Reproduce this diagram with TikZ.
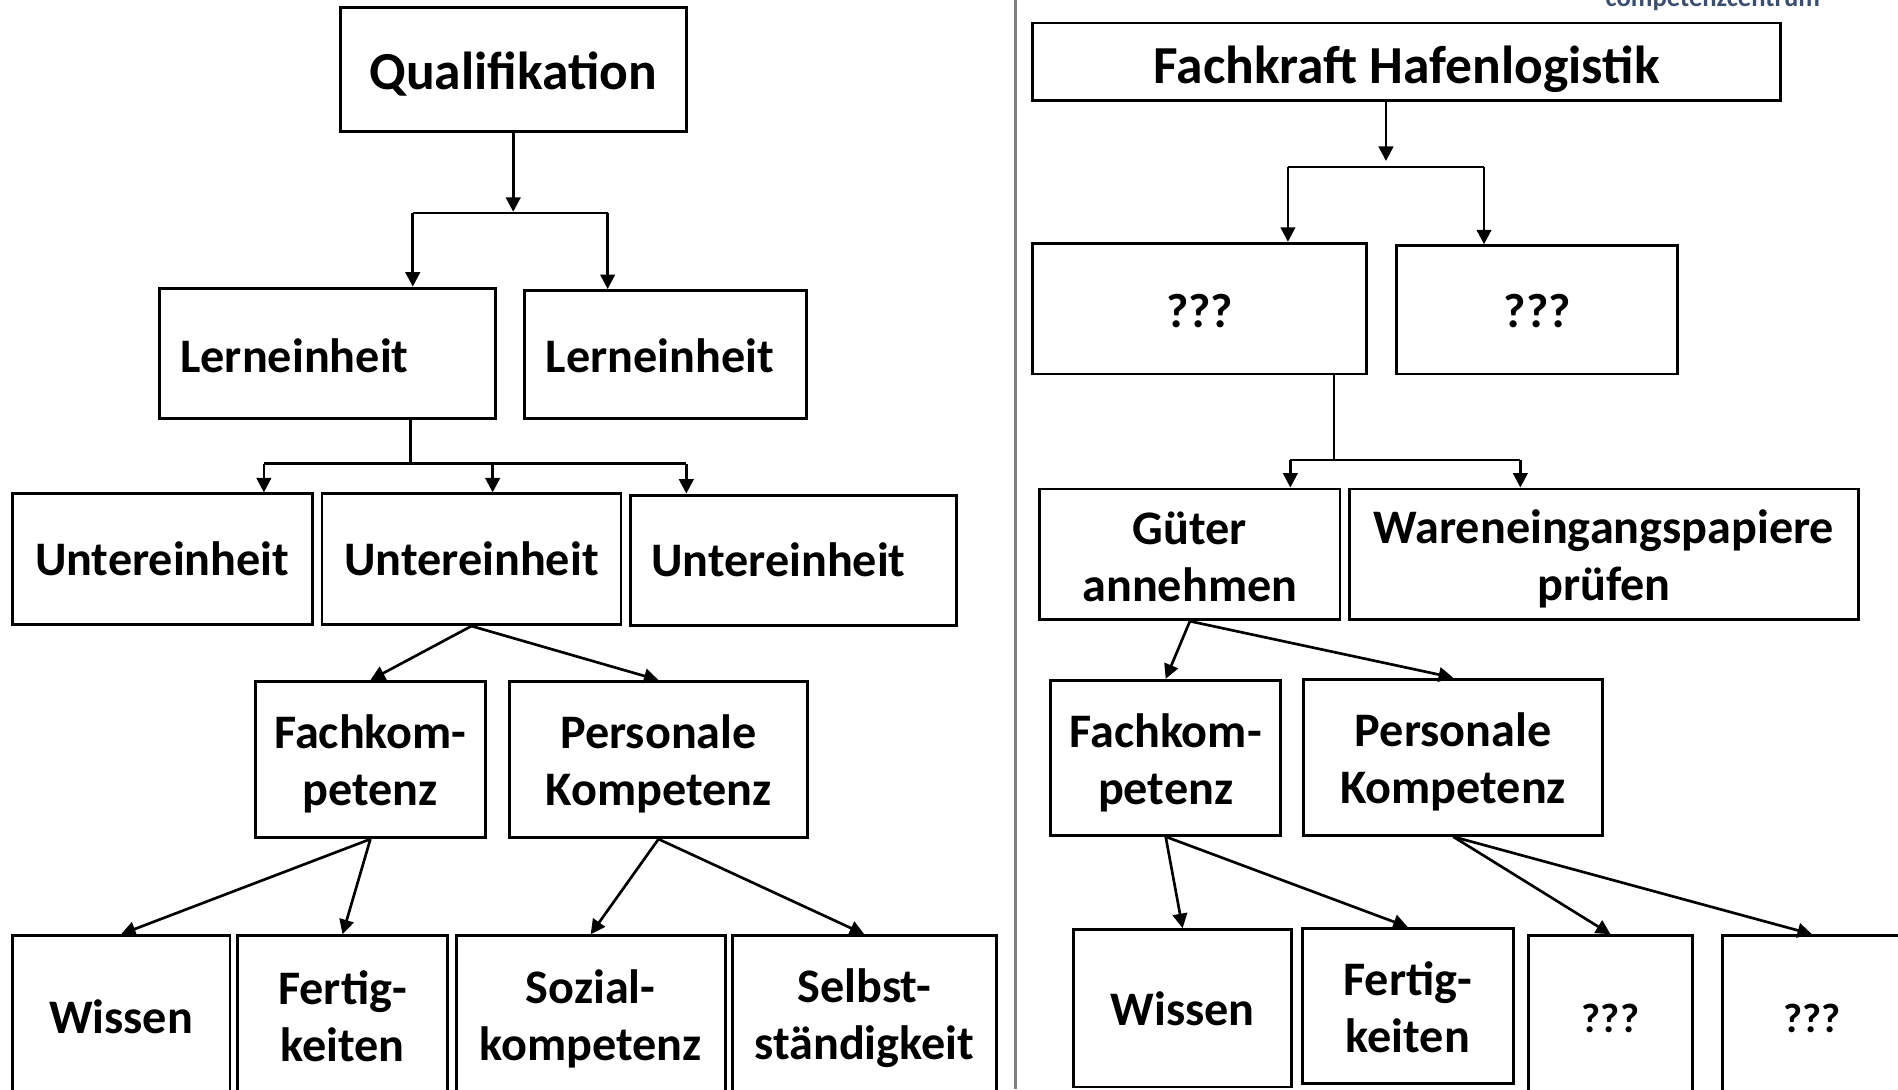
\documentclass[tikz,border=0pt]{standalone}
\usepackage{fontspec}
\setmainfont{Carlito}
\usetikzlibrary{arrows.meta}
\definecolor{logoblue}{RGB}{60,78,112}
\newcommand{\topstrut}{\rule{0pt}{\dimexpr0.952em+\boxsink\relax}}

\begin{document}
\begin{tikzpicture}[x=0.5pt,y=-0.5pt,
    sink/.store in=\boxsink,
    box/.style 2 args={draw, line width=1.2pt, inner sep=0pt, align=center,
      minimum width=#1*0.5pt, minimum height=#2*0.5pt, sink=0pt,
      font=\bfseries\fontsize{19.9}{23.5}\selectfont,
      execute at begin node={\topstrut},
      execute at end node={\rule[-0.269em]{0pt}{0.269em}}},
    titlefont/.style={font=\bfseries\fontsize{22.1}{26.5}\selectfont},
    smallfont/.style={font=\bfseries\fontsize{17}{20.5}\selectfont},
    link/.style={line width=1.1pt},
    arr/.style={line width=1.1pt, -{Triangle[length=6pt,width=6pt]}}]
    \useasboundingbox (0,0) rectangle (1568,900);
    \clip (0,0) rectangle (1568,900);

    % left tree
    \node[box={286}{103}, titlefont, sink=1pt] at (424,57.5) (Qua) {Qualifikation};
    \node[box={277}{108}, text width=121.5pt, align=left, sink=2pt] at (270.5,292) (Lr1) {Lerneinheit};
    \node[box={233}{106}, text width=98.5pt, align=left, sink=1pt] at (549.5,293) (Lr2) {Lerneinheit};
    \node[box={248}{108}] at (134,462) (Un1) {Untereinheit};
    \node[box={247}{108}] at (389.5,462) (Un2) {Untereinheit};
    \node[box={269}{108}, text width=117.5pt, align=left] at (655.5,463) (Un3) {Untereinheit};
    \node[box={190}{129}, sink=1pt] at (306,627.5) (Fk1) {\topstrut Fachkom-\\petenz};
    \node[box={246}{129}, sink=0.5pt] at (544,627.5) (Pk1) {\topstrut Personale\\Kompetenz};
    \node[box={180}{134}] at (100,840) (Wi1) {Wissen};
    \node[box={174}{134}, sink=-0.5pt] at (283,840) (Fe1) {\topstrut Fertig-\\keiten};
    \node[box={222}{134}, sink=-1pt] at (488,840) (So1) {\topstrut Sozial-\\kompetenz};
    \node[box={218}{134}, sink=-1.5pt] at (714,840) (Se1) {\topstrut Selbst-\\ständigkeit};

    % right tree
    \node[box={618}{64}, titlefont, sink=3pt] at (1162,51) (Fhl) {Fachkraft Hafenlogistik};
    \node[box={276}{108}, sink=2pt] at (991,255) (Qm1) {???};
    \node[box={232}{106}, sink=1pt] at (1270,256) (Qm2) {???};
    \node[box={248}{108}, sink=1.5pt] at (983,458) (Gue) {\topstrut Güter\\annehmen};
    \node[box={420}{108}, sink=1pt] at (1325,458) (War) {\topstrut Wareneingangspapiere\\prüfen};
    \node[box={190}{128}, sink=1.5pt] at (963,626) (Fk2) {\topstrut Fachkom-\\petenz};
    \node[box={247}{129}, sink=1pt] at (1200.5,625.5) (Pk2) {\topstrut Personale\\Kompetenz};
    \node[box={180}{130}, sink=1pt] at (977,833) (Wi2) {Wissen};
    \node[box={174}{128}, sink=1pt] at (1163,831) (Fe2) {\topstrut Fertig-\\keiten};
    \node[box={135}{134}, smallfont, sink=1pt] at (1330.5,840) (Qm3) {???};
    \node[box={148}{134}, smallfont, sink=1pt] at (1497,840) (Qm4) {???};

    \node[text=logoblue, font=\bfseries\fontsize{11}{13}\selectfont, anchor=base] at (1415,5) (Logo) {competenzcentrum};

    % branch points
    \coordinate (QuaBr) at (424,175);
    \coordinate (QuaL) at (341,176);
    \coordinate (QuaR) at (502,176);
    \coordinate (LrnS) at (339,383);
    \coordinate (LrnL) at (218,383);
    \coordinate (LrnM) at (407,383);
    \coordinate (LrnR) at (567,383);
    \coordinate (FhlBr) at (1145,133);
    \coordinate (FhlL) at (1064,138);
    \coordinate (FhlR) at (1226,138);
    \coordinate (QmS) at (1102,380);
    \coordinate (QmL) at (1066,380);
    \coordinate (QmR) at (1256,380);

    \draw[arr] (Qua.south) -- (QuaBr);
    \draw[link] (QuaL) -- (QuaR);
    \draw[arr] (QuaL) -- (QuaL |- Lr1.north);
    \draw[arr] (QuaR) -- (QuaR |- Lr2.north);
    \draw[link] (LrnS |- Lr1.south) -- (LrnS);
    \draw[link] (LrnL) -- (LrnR);
    \draw[arr] (LrnL) -- (LrnL |- Un1.north);
    \draw[arr] (LrnM) -- (LrnM |- Un2.north);
    \draw[arr] (LrnR) -- (LrnR |- Un3.north);
    \draw[arr] (Un2.south) -- (Fk1.north);
    \draw[arr] (Un2.south) -- (Pk1.north);
    \draw[arr] (Fk1.south) -- (Wi1.north);
    \draw[arr] (Fk1.south) -- (Fe1.north);
    \draw[arr] (Pk1.south) -- (So1.north);
    \draw[arr] (Pk1.south) -- (Se1.north);

    \draw[arr] (Fhl.south -| FhlBr) -- (FhlBr);
    \draw[link] (FhlL) -- (FhlR);
    \draw[arr] (FhlL) -- (FhlL |- Qm1.north);
    \draw[arr] (FhlR) -- (FhlR |- Qm2.north);
    \draw[link] (QmS |- Qm1.south) -- (QmS);
    \draw[link] (QmL) -- (QmR);
    \draw[arr] (QmL) -- (QmL |- Gue.north);
    \draw[arr] (QmR) -- (QmR |- War.north);
    \draw[arr] (Gue.south) -- (Fk2.north);
    \draw[arr] (Gue.south) -- (Pk2.north);
    \draw[arr] (Fk2.south) -- (Wi2.north);
    \draw[arr] (Fk2.south) -- (Fe2.north);
    \draw[arr] (Pk2.south) -- (Qm3.north);
    \draw[arr] (Pk2.south) -- (Qm4.north);

    % divider
    \draw[gray, line width=1.5pt] (839,0) -- (839,900);
  \end{tikzpicture}
\end{document}
